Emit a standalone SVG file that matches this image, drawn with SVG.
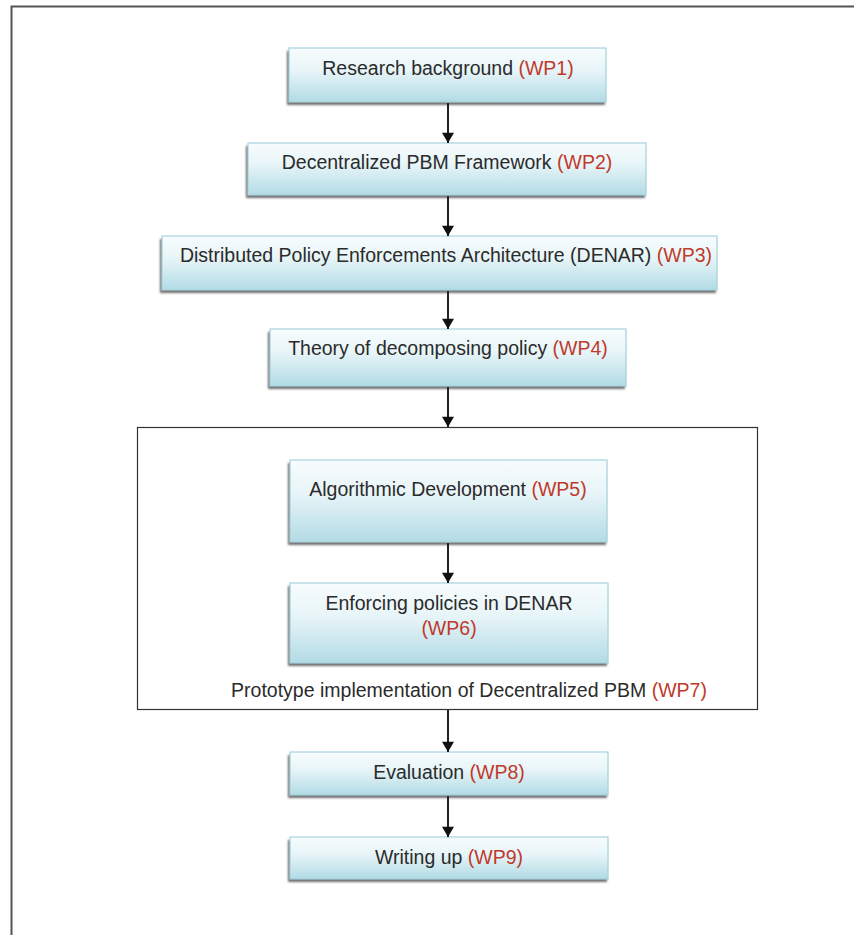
<svg xmlns="http://www.w3.org/2000/svg" width="854" height="935" viewBox="0 0 854 935">
  <defs>
    <linearGradient id="boxFill" x1="0" y1="0" x2="0" y2="1">
      <stop offset="0" stop-color="#f7fcfd"/>
      <stop offset="0.4" stop-color="#e8f5f8"/>
      <stop offset="1" stop-color="#b2dbe5"/>
    </linearGradient>
    <filter id="soft" x="-5%" y="-20%" width="110%" height="140%">
      <feGaussianBlur stdDeviation="1.2"/>
    </filter>
    <marker id="arrow" viewBox="0 0 12 14" refX="12" refY="7" markerWidth="14" markerHeight="12" markerUnits="userSpaceOnUse" orient="auto">
      <path d="M0,0 L12,7 L0,14 z" fill="#111"/>
    </marker>
  </defs>
  <style>
    .shadow { fill: #707070; filter: url(#soft); }
    .box { fill: url(#boxFill); stroke: #a6d3dd; stroke-width: 1.2; }
    .label { font-family: "Liberation Sans", Arial, sans-serif; font-size: 19.5px; fill: #2b2b2b; text-anchor: middle; }
    .wp { fill: #c0392b; }
    .conn { stroke: #222; stroke-width: 2; fill: none; marker-end: url(#arrow); }
  </style>

  <rect width="854" height="935" fill="#ffffff"/>
  <!-- page frame: top and left rule -->
  <path d="M11.5,935 L11.5,6.5 L854,6.5" fill="none" stroke="#555" stroke-width="2"/>

  <!-- prototype container -->
  <g id="container-wp7">
    <rect x="137.5" y="427.5" width="620" height="282" fill="#ffffff" stroke="#333" stroke-width="1.2"/>
    <text class="label" x="469" y="697">Prototype implementation of Decentralized PBM <tspan class="wp">(WP7)</tspan></text>
  </g>

  <g id="node-wp1">
    <rect class="shadow" x="287" y="51" width="318" height="54"/>
    <rect class="box" x="289" y="48" width="317" height="54"/>
    <text class="label" x="448" y="75">Research background <tspan class="wp">(WP1)</tspan></text>
  </g>

  <g id="node-wp2">
    <rect class="shadow" x="246" y="146" width="399" height="52"/>
    <rect class="box" x="248" y="143" width="398" height="52"/>
    <text class="label" x="447" y="169">Decentralized PBM Framework <tspan class="wp">(WP2)</tspan></text>
  </g>

  <g id="node-wp3">
    <rect class="shadow" x="160" y="239" width="556" height="54"/>
    <rect class="box" x="162" y="236" width="555" height="54"/>
    <text class="label" x="446" y="262">Distributed Policy Enforcements Architecture (DENAR) <tspan class="wp">(WP3)</tspan></text>
  </g>

  <g id="node-wp4">
    <rect class="shadow" x="268" y="332" width="357" height="57"/>
    <rect class="box" x="270" y="329" width="356" height="57"/>
    <text class="label" x="448" y="355">Theory of decomposing policy <tspan class="wp">(WP4)</tspan></text>
  </g>

  <g id="node-wp5">
    <rect class="shadow" x="288" y="463" width="318" height="82"/>
    <rect class="box" x="290" y="460" width="317" height="82"/>
    <text class="label" x="448" y="496">Algorithmic Development <tspan class="wp">(WP5)</tspan></text>
  </g>

  <g id="node-wp6">
    <rect class="shadow" x="288" y="586" width="319" height="80"/>
    <rect class="box" x="290" y="583" width="318" height="80"/>
    <text class="label" x="449" y="610">Enforcing policies in DENAR</text>
    <text class="label wp" x="449" y="635">(WP6)</text>
  </g>

  <g id="node-wp8">
    <rect class="shadow" x="288" y="755" width="319" height="43"/>
    <rect class="box" x="290" y="752" width="318" height="43"/>
    <text class="label" x="449" y="779">Evaluation <tspan class="wp">(WP8)</tspan></text>
  </g>

  <g id="node-wp9">
    <rect class="shadow" x="288" y="840" width="319" height="42"/>
    <rect class="box" x="290" y="837" width="318" height="42"/>
    <text class="label" x="449" y="864">Writing up <tspan class="wp">(WP9)</tspan></text>
  </g>

  <g id="connectors">
    <line class="conn" x1="448" y1="103" x2="448" y2="143"/>
    <line class="conn" x1="448" y1="196" x2="448" y2="236"/>
    <line class="conn" x1="448" y1="291" x2="448" y2="329"/>
    <line class="conn" x1="448" y1="387" x2="448" y2="427"/>
    <line class="conn" x1="448" y1="543" x2="448" y2="583"/>
    <line class="conn" x1="448" y1="710" x2="448" y2="752"/>
    <line class="conn" x1="448" y1="796" x2="448" y2="837"/>
  </g>
</svg>
